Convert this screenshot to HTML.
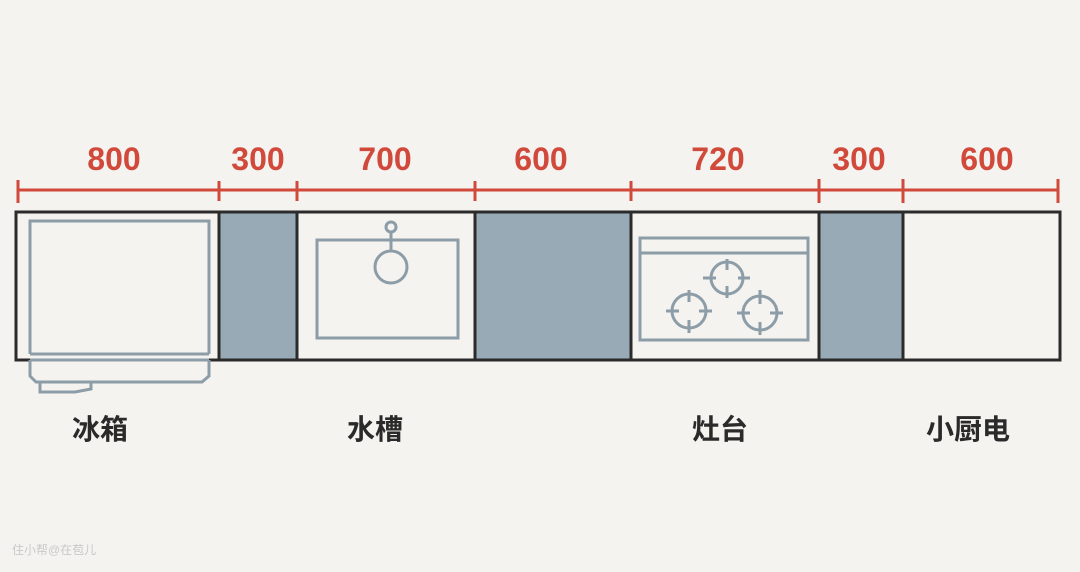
<!DOCTYPE html>
<html><head><meta charset="utf-8"><style>
html,body{margin:0;padding:0;background:#f4f3f0;}
svg{display:block}
</style></head><body>
<svg width="1080" height="572" viewBox="0 0 1080 572" xmlns="http://www.w3.org/2000/svg">
<rect width="1080" height="572" fill="#f4f3f0"/>
<g fill="#d0493a" font-family="Liberation Sans, sans-serif" font-weight="bold" font-size="32" text-anchor="middle">
<text x="114" y="170">800</text>
<text x="258" y="170">300</text>
<text x="385" y="170">700</text>
<text x="541" y="170">600</text>
<text x="718" y="170">720</text>
<text x="859" y="170">300</text>
<text x="987" y="170">600</text>
</g>
<g stroke="#d0493a" stroke-width="3">
<line x1="18" y1="190" x2="1058" y2="190"/>
<line x1="18" y1="180" x2="18" y2="203"/>
<line x1="219" y1="181" x2="219" y2="201"/>
<line x1="297" y1="181" x2="297" y2="201"/>
<line x1="475" y1="181" x2="475" y2="201"/>
<line x1="631" y1="181" x2="631" y2="201"/>
<line x1="819" y1="179" x2="819" y2="203"/>
<line x1="903" y1="179" x2="903" y2="203"/>
<line x1="1058" y1="179" x2="1058" y2="203"/>
</g>
<g fill="#98aab5">
<rect x="219" y="212" width="78" height="148"/>
<rect x="475" y="212" width="156" height="148"/>
<rect x="819" y="212" width="84" height="148"/>
</g>
<g stroke="#2b2b2b" stroke-width="3" fill="none">
<rect x="16" y="212" width="1044" height="148"/>
<line x1="219" y1="212" x2="219" y2="360"/>
<line x1="297" y1="212" x2="297" y2="360"/>
<line x1="475" y1="212" x2="475" y2="360"/>
<line x1="631" y1="212" x2="631" y2="360"/>
<line x1="819" y1="212" x2="819" y2="360"/>
<line x1="903" y1="212" x2="903" y2="360"/>
</g>
<g stroke="#8c9da8" stroke-width="3" fill="none">
<path d="M30 354 V221 H209 V354"/>
<line x1="30" y1="354" x2="209" y2="354"/>
<line x1="30" y1="360" x2="209" y2="360"/>
<path d="M30 360 V376 L36 382 H202 L209 376 V360"/>
<path d="M40 382 V392 H75 L91 389 V382"/>
<rect x="317" y="240" width="141" height="98"/>
<line x1="391" y1="231" x2="391" y2="252"/>
<circle cx="391" cy="227" r="5"/>
<circle cx="391" cy="267" r="16"/>
<rect x="640" y="238" width="168" height="102"/>
<line x1="640" y1="253" x2="808" y2="253"/>
<circle cx="727" cy="278" r="16"/>
<path d="M727 259 V270 M727 286 V298 M703 278 H716 M738 278 H750"/>
<circle cx="689" cy="311" r="17"/>
<path d="M689 290 V302 M689 320 V333 M666 311 H679 M699 311 H712"/>
<circle cx="760" cy="313" r="17"/>
<path d="M760 290 V304 M760 322 V335 M737 313 H750 M770 313 H783"/>
</g>
<g fill="#2a2a2a" font-family="Liberation Sans, Noto Sans CJK SC, sans-serif" font-weight="bold" font-size="28" text-anchor="middle">
<text x="100" y="439">冰箱</text>
<text x="375" y="439">水槽</text>
<text x="720" y="439">灶台</text>
<text x="968" y="439">小厨电</text>
</g>
<text x="12" y="554" fill="#c9c9c9" font-family="Liberation Sans, Noto Sans CJK SC, sans-serif" font-size="12">住小帮@在苞儿</text>
</svg>
</body></html>
